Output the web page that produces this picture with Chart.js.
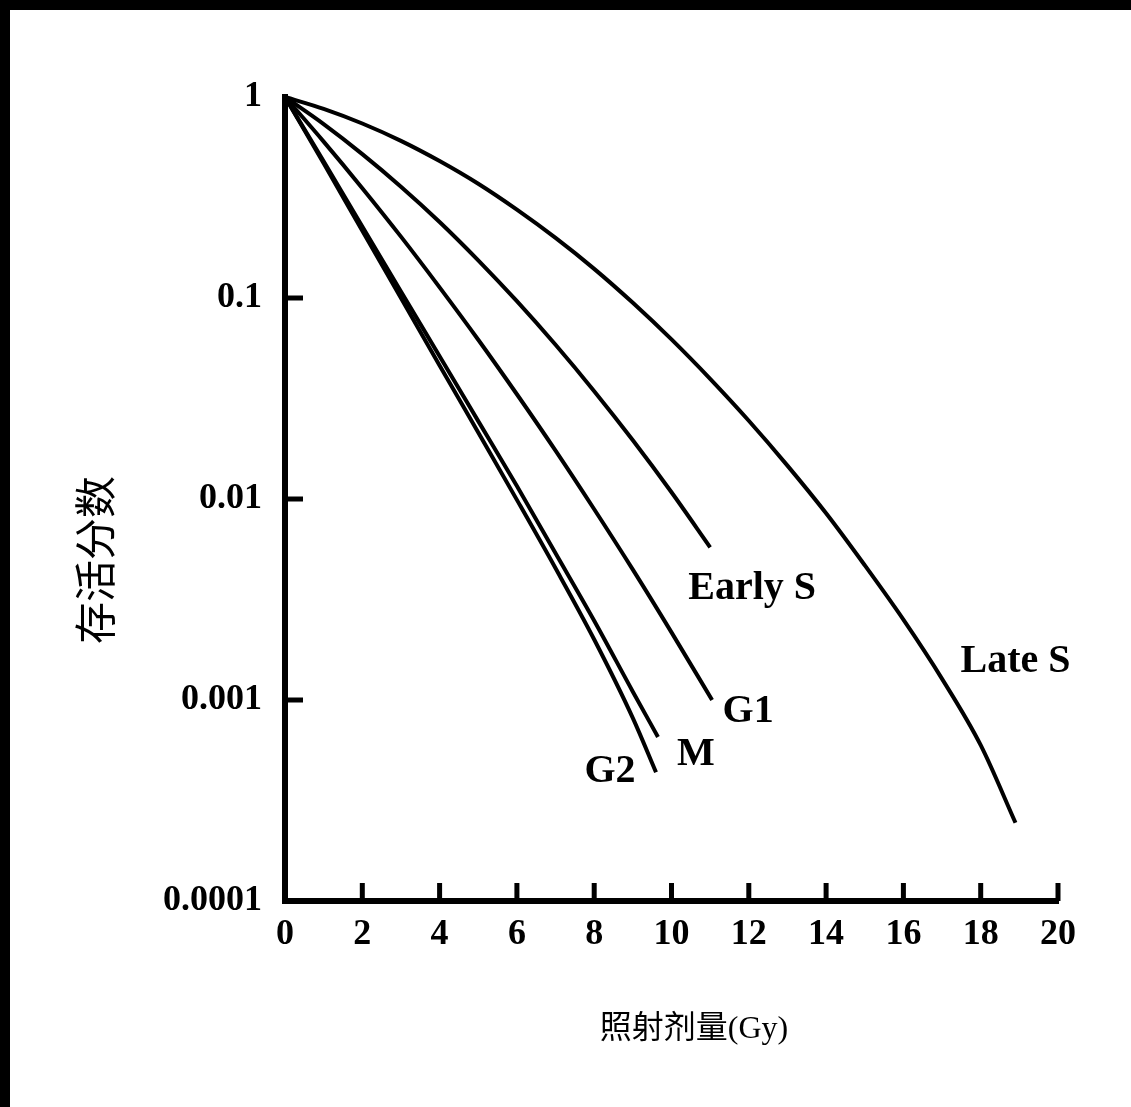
<!DOCTYPE html>
<html>
<head>
<meta charset="utf-8">
<script src="https://cdn.jsdelivr.net/npm/chart.js@4"></script>
<style>
  html, body { margin: 0; padding: 0; background: #fff; }
  #wrap { position: relative; width: 1131px; height: 1107px; }
  #frame {
    position: absolute; left: 0; top: 0; width: 1131px; height: 1107px;
    box-sizing: border-box; border-top: 10px solid #000; border-left: 10px solid #000;
    pointer-events: none;
  }
</style>
</head>
<body>
<div id="wrap">
  <canvas id="chart" width="1131" height="1107"></canvas>
  <div id="frame"></div>
</div>
<script>
// 剂量 (Gy) 与存活分数
const earlySDose = [0, 1, 2, 3, 4, 5, 6, 7, 8, 9, 10, 11];
const earlySSurvival = [1, 0.733, 0.52, 0.358, 0.239, 0.154, 0.0964, 0.0585, 0.0344, 0.0196, 0.0108, 0.00575];

const g1Dose = [0, 1, 2, 3, 4, 5, 6, 7, 8, 9, 10, 11.05];
const g1Survival = [1, 0.6, 0.352, 0.202, 0.113, 0.062, 0.0332, 0.0174, 0.00889, 0.00445, 0.00217, 0.001];

const mDose = [0, 1, 2, 3, 4, 5, 6, 7, 8, 9, 9.65];
const mSurvival = [1, 0.479, 0.2265, 0.1076, 0.0513, 0.0244, 0.0116, 0.00537, 0.00248, 0.0011, 0.000655];

const g2Dose = [0, 1, 2, 3, 4, 5, 6, 7, 8, 9, 9.6];
const g2Survival = [1, 0.468, 0.216, 0.1, 0.0462, 0.0214, 0.0099, 0.00452, 0.002, 0.000813, 0.000437];

const lateSDose = [0, 1, 2, 3, 4, 5, 6, 7, 8, 9, 10, 11, 12, 13, 14, 15, 16, 17, 18, 18.9];
const lateSSurvival = [1, 0.873, 0.738, 0.605, 0.48, 0.37, 0.275, 0.199, 0.1396, 0.0946, 0.0622,
  0.0396, 0.0245, 0.01466, 0.00849, 0.00468, 0.00251, 0.001274, 0.000596, 0.000245];

// 刻度
const xTickValues = [0, 2, 4, 6, 8, 10, 12, 14, 16, 18, 20];
const xTickLabels = ['0', '2', '4', '6', '8', '10', '12', '14', '16', '18', '20'];
const yTickValues = [0.0001, 0.001, 0.01, 0.1, 1];
const yTickLabels = ['0.0001', '0.001', '0.01', '0.1', '1'];

const xTitle = '照射剂量(Gy)';
const yTitle = '存活分数';

function toPoints(xs, ys) {
  return xs.map((x, i) => ({ x: x, y: ys[i] }));
}

function makeSet(label, xs, ys) {
  return {
    label: label,
    data: toPoints(xs, ys),
    showLine: true,
    borderColor: '#000',
    borderWidth: 4,
    pointRadius: 0,
    cubicInterpolationMode: 'monotone',
    clip: false
  };
}

// 内向刻度线、曲线标注和坐标轴标题
const annotationPlugin = {
  id: 'annotations',
  afterDatasetsDraw(chart, args, opts) {
    const { ctx, chartArea, scales: { x, y } } = chart;
    ctx.save();
    ctx.strokeStyle = '#000';
    ctx.fillStyle = '#000';
    ctx.lineWidth = opts.tickWidth;

    x.ticks.forEach(t => {
      if (t.value <= x.min) return;
      const px = x.getPixelForValue(t.value);
      ctx.beginPath();
      ctx.moveTo(px, chartArea.bottom);
      ctx.lineTo(px, chartArea.bottom - opts.tickLength);
      ctx.stroke();
    });
    y.ticks.forEach(t => {
      if (t.value <= y.min || t.value >= y.max) return;
      const py = y.getPixelForValue(t.value);
      ctx.beginPath();
      ctx.moveTo(chartArea.left, py);
      ctx.lineTo(chartArea.left + opts.tickLength, py);
      ctx.stroke();
    });

    // 曲线名称
    ctx.font = opts.labelFont;
    ctx.textAlign = 'center';
    ctx.textBaseline = 'middle';
    chart.data.datasets.forEach((ds, i) => {
      const pts = chart.getDatasetMeta(i).data;
      const end = pts[pts.length - 1];
      const off = opts.labelOffsets[ds.label];
      ctx.fillText(ds.label, end.x + off[0], end.y + off[1]);
    });

    // 坐标轴标题
    ctx.font = opts.titleFont;
    ctx.fillText(xTitle, opts.xTitlePos[0], opts.xTitlePos[1]);
    ctx.translate(opts.yTitlePos[0], opts.yTitlePos[1]);
    ctx.rotate(-Math.PI / 2);
    ctx.font = opts.yTitleFont;
    ctx.fillText(yTitle, 0, 0);
    ctx.restore();
  }
};

const ctx = document.getElementById('chart').getContext('2d');
new Chart(ctx, {
  type: 'scatter',
  data: {
    datasets: [
      makeSet('Early S', earlySDose, earlySSurvival),
      makeSet('G1', g1Dose, g1Survival),
      makeSet('M', mDose, mSurvival),
      makeSet('G2', g2Dose, g2Survival),
      makeSet('Late S', lateSDose, lateSSurvival)
    ]
  },
  plugins: [annotationPlugin],
  options: {
    responsive: false,
    animation: false,
    devicePixelRatio: 1,
    layout: { padding: { top: 97, right: 73, bottom: 0, left: 0 } },
    plugins: {
      legend: { display: false },
      tooltip: { enabled: false },
      annotations: {
        tickWidth: 5,
        tickLength: 18,
        labelFont: 'bold 40px "Liberation Serif"',
        titleFont: '32px "Liberation Serif", "Noto Sans CJK SC"',
        yTitleFont: '42px "Noto Sans CJK SC"',
        xTitlePos: [694, 1030],
        yTitlePos: [95, 560],
        labelOffsets: {
          'Early S': [42, 41],
          'G1': [36, 12],
          'M': [38, 18],
          'G2': [-46, -1],
          'Late S': [0, -161]
        }
      }
    },
    scales: {
      x: {
        type: 'linear',
        min: 0,
        max: 20,
        afterBuildTicks: s => { s.ticks = xTickValues.map(v => ({ value: v })); },
        afterFit: s => { s.height = 206; },
        grid: { display: false, drawTicks: false },
        border: { display: true, color: '#000', width: 6 },
        ticks: {
          padding: 12,
          color: '#000',
          maxRotation: 0,
          font: { family: 'Liberation Serif', size: 36, weight: 'bold' },
          callback: (v) => xTickLabels[xTickValues.indexOf(v)]
        }
      },
      y: {
        type: 'logarithmic',
        min: 0.0001,
        max: 1,
        afterBuildTicks: s => { s.ticks = yTickValues.map(v => ({ value: v })); },
        afterFit: s => { s.width = 285; },
        grid: { display: false, drawTicks: false },
        border: { display: true, color: '#000', width: 6 },
        ticks: {
          padding: 23,
          color: '#000',
          font: { family: 'Liberation Serif', size: 36, weight: 'bold' },
          callback: (v) => yTickLabels[yTickValues.indexOf(v)]
        }
      }
    }
  }
});
</script>
</body>
</html>
